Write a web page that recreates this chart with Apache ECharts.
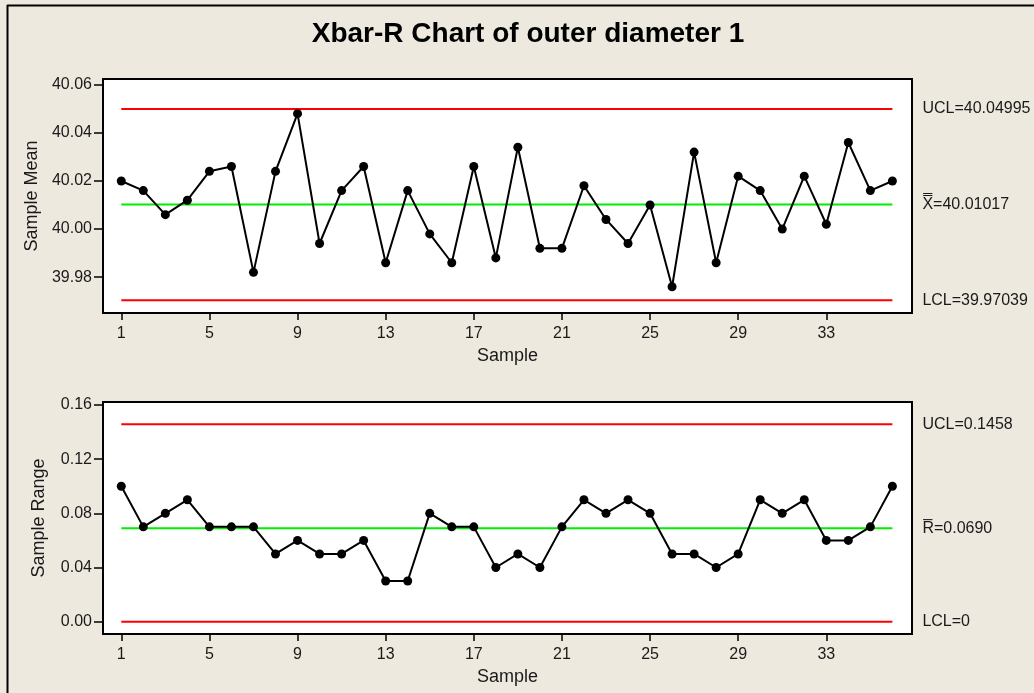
<!DOCTYPE html>
<html>
<head>
<meta charset="utf-8">
<script src="https://cdn.jsdelivr.net/npm/echarts@6/dist/echarts.min.js"></script>
<style>
  html, body { margin: 0; padding: 0; background: #EDE9DF; }
  #chart { width: 1034px; height: 693px; }
</style>
</head>
<body>
<div id="chart"></div>
<script>
// Subgroup numbers along the horizontal axis
const sampleNo = [1, 2, 3, 4, 5, 6, 7, 8, 9, 10, 11, 12, 13, 14, 15, 16, 17, 18,
                  19, 20, 21, 22, 23, 24, 25, 26, 27, 28, 29, 30, 31, 32, 33, 34, 35, 36];
const xTickLabels = [1, 5, 9, 13, 17, 21, 25, 29, 33];

// Xbar chart: subgroup means and limits
const sampleMeans = [40.020, 40.016, 40.006, 40.012, 40.024, 40.026, 39.982, 40.024, 40.048,
                     39.994, 40.016, 40.026, 39.986, 40.016, 39.998, 39.986, 40.026, 39.988,
                     40.034, 39.992, 39.992, 40.018, 40.004, 39.994, 40.010, 39.976, 40.032,
                     39.986, 40.022, 40.016, 40.000, 40.022, 40.002, 40.036, 40.016, 40.020];
const meanLimits = { ucl: 40.04995, center: 40.01017, lcl: 39.97039 };
const meanTicks = [39.98, 40.00, 40.02, 40.04, 40.06];

// R chart: subgroup ranges and limits
const sampleRanges = [0.10, 0.07, 0.08, 0.09, 0.07, 0.07, 0.07, 0.05, 0.06, 0.05, 0.05, 0.06,
                      0.03, 0.03, 0.08, 0.07, 0.07, 0.04, 0.05, 0.04, 0.07, 0.09, 0.08, 0.09,
                      0.08, 0.05, 0.05, 0.04, 0.05, 0.09, 0.08, 0.09, 0.06, 0.06, 0.07, 0.10];
const rangeLimits = { ucl: 0.1458, center: 0.0690, lcl: 0 };
const rangeTicks = [0.00, 0.04, 0.08, 0.12, 0.16];

const FONT = "'Liberation Sans', Arial, sans-serif";
const TEXT = '#1a1a1a';

const first = sampleNo[0];
const last = sampleNo[sampleNo.length - 1];

// Horizontal control-limit line with its value written past the right end
function limitSeries(gridIdx, value, color, labelText) {
  return {
    type: 'line',
    xAxisIndex: gridIdx,
    yAxisIndex: gridIdx,
    data: [[first, value], [last, value]],
    symbol: 'none',
    silent: true,
    lineStyle: { color: color, width: 2 },
    endLabel: {
      show: true,
      formatter: labelText,
      distance: 30,
      color: TEXT,
      fontFamily: FONT,
      fontSize: 16,
      align: 'left',
      verticalAlign: 'middle'
    }
  };
}

function dataSeries(gridIdx, values) {
  return {
    type: 'line',
    xAxisIndex: gridIdx,
    yAxisIndex: gridIdx,
    data: sampleNo.map((s, i) => [s, values[i]]),
    symbol: 'circle',
    symbolSize: 9,
    lineStyle: { color: '#000', width: 2 },
    itemStyle: { color: '#000' },
    z: 5
  };
}

function xAxisFor(gridIdx) {
  return {
    type: 'value',
    gridIndex: gridIdx,
    position: 'bottom',
    min: 0.17,
    max: 36.89,
    name: 'Sample',
    nameLocation: 'middle',
    nameGap: 34,
    nameTextStyle: { color: TEXT, fontFamily: FONT, fontSize: 18 },
    axisLine: { show: false, onZero: false },
    splitLine: { show: false },
    axisTick: { show: true, inside: false, customValues: xTickLabels, length: 7, lineStyle: { color: '#000', width: 1.5 } },
    axisLabel: { customValues: xTickLabels, color: TEXT, fontFamily: FONT, fontSize: 16, margin: 13 }
  };
}

function yAxisFor(gridIdx, name, min, max, ticks, decimals, gap) {
  return {
    type: 'value',
    gridIndex: gridIdx,
    position: 'left',
    min: min,
    max: max,
    name: name,
    nameLocation: 'middle',
    nameGap: gap,
    nameTextStyle: { color: TEXT, fontFamily: FONT, fontSize: 18 },
    axisLine: { show: false, onZero: false },
    splitLine: { show: false },
    axisTick: { show: true, inside: false, customValues: ticks, length: 9, lineStyle: { color: '#000', width: 1.5 } },
    axisLabel: {
      customValues: ticks,
      color: TEXT, fontFamily: FONT, fontSize: 16, margin: 11,
      formatter: v => Number(v).toFixed(decimals)
    }
  };
}

const chart = echarts.init(document.getElementById('chart'), null, { renderer: 'canvas' });

chart.setOption({
  backgroundColor: '#EDE9DF',
  animation: false,
  title: {
    text: 'Xbar-R Chart of outer diameter 1',
    left: 528,
    top: 20,
    padding: 0,
    textAlign: 'center',
    textStyle: { color: '#000', fontFamily: FONT, fontSize: 28, fontWeight: 'bold' }
  },
  grid: [
    { left: 103, top: 79, width: 809, height: 234, show: true, backgroundColor: '#fff', borderColor: '#000', borderWidth: 2 },
    { left: 103, top: 402, width: 809, height: 232, show: true, backgroundColor: '#fff', borderColor: '#000', borderWidth: 2 }
  ],
  xAxis: [xAxisFor(0), xAxisFor(1)],
  yAxis: [
    yAxisFor(0, 'Sample Mean', 39.9651, 40.0624, meanTicks, 2, 62),
    yAxisFor(1, 'Sample Range', -0.0091, 0.1622, rangeTicks, 2, 55)
  ],
  graphic: [
    { type: 'line', shape: { x1: 7.5, y1: 5, x2: 7.5, y2: 693 }, style: { stroke: '#000', lineWidth: 2 } },
    { type: 'line', shape: { x1: 7, y1: 5.5, x2: 1034, y2: 5.5 }, style: { stroke: '#000', lineWidth: 2 } }
  ],
  series: [
    limitSeries(0, meanLimits.ucl, '#ff0000', 'UCL=' + meanLimits.ucl),
    limitSeries(0, meanLimits.center, '#00ee00', 'X\u033F=' + meanLimits.center),
    limitSeries(0, meanLimits.lcl, '#ff0000', 'LCL=' + meanLimits.lcl),
    dataSeries(0, sampleMeans),
    limitSeries(1, rangeLimits.ucl, '#ff0000', 'UCL=' + rangeLimits.ucl),
    limitSeries(1, rangeLimits.center, '#00ee00', 'R\u0305=' + rangeLimits.center.toFixed(4)),
    limitSeries(1, rangeLimits.lcl, '#ff0000', 'LCL=' + rangeLimits.lcl),
    dataSeries(1, sampleRanges)
  ]
});
</script>
</body>
</html>
